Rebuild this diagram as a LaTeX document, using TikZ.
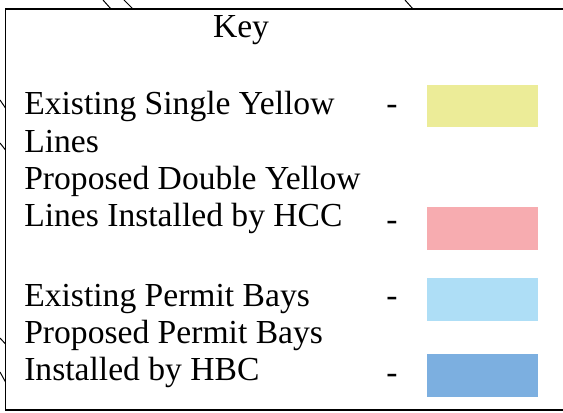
\documentclass[tikz,border=0pt]{standalone}
\usepackage{fontspec}
\setmainfont{Liberation Serif}
\usepackage{xcolor}
\usepackage{tikz}
\definecolor{keyyellow}{RGB}{236,236,152}
\definecolor{keypink}{RGB}{247,172,176}
\definecolor{keylightblue}{RGB}{174,222,246}
\definecolor{keyblue}{RGB}{124,175,224}

\begin{document}
\begin{tikzpicture}[x=0.25mm, y=-0.25mm,
		keytext/.style={anchor=base west, inner sep=0pt, font=\fontsize{23.9}{28}\selectfont},
		mapline/.style={line width=0.7pt}]
			\useasboundingbox (0,0) rectangle (563,413);
			%%\draw (0,0) grid (563,413);
			\draw [mapline] (103,0) -- (111,9);
			\draw [mapline] (124,0) -- (133,9);
			\draw [mapline] (405,0) -- (413,9);
			\draw [mapline] (0,100) -- (5.5,108);
			\draw [mapline] (0,143) -- (5.5,150);
			\draw [mapline] (0,338) -- (5.5,344);
			\draw [mapline] (0,372) -- (5.5,382);
			\draw [line width=1.1pt, fill=white] (5.5,9) rectangle (580,410);
			
			\node [keytext, anchor=base] (key) at (241,38) {Key};
			
			\node [keytext] (ysl1) at (24,115) {Existing Single Yellow};
			\node [keytext] (ysl2) at (24,152) {Lines};
			\node [keytext] (dyl1) at (24,189) {Proposed Double Yellow};
			\node [keytext] (dyl2) at (24,226) {Lines Installed by HCC};
			\node [keytext] (epb) at (24,306) {Existing Permit Bays};
			\node [keytext] (ppb1) at (24,343) {Proposed Permit Bays};
			\node [keytext] (ppb2) at (24,380) {Installed by HBC};
			
			\node [keytext] (dashysl) at (386,115) {-};
			\node [keytext] (dashdyl) at (386,230) {-};
			\node [keytext] (dashepb) at (386,306) {-};
			\node [keytext] (dashppb) at (386,383) {-};
			
			\fill [keyyellow] (427,85) rectangle (538,127);
			\fill [keypink] (427,207) rectangle (538,250);
			\fill [keylightblue] (427,278) rectangle (538,321);
			\fill [keyblue] (427,354) rectangle (538,397);
			\end{tikzpicture}
\end{document}
